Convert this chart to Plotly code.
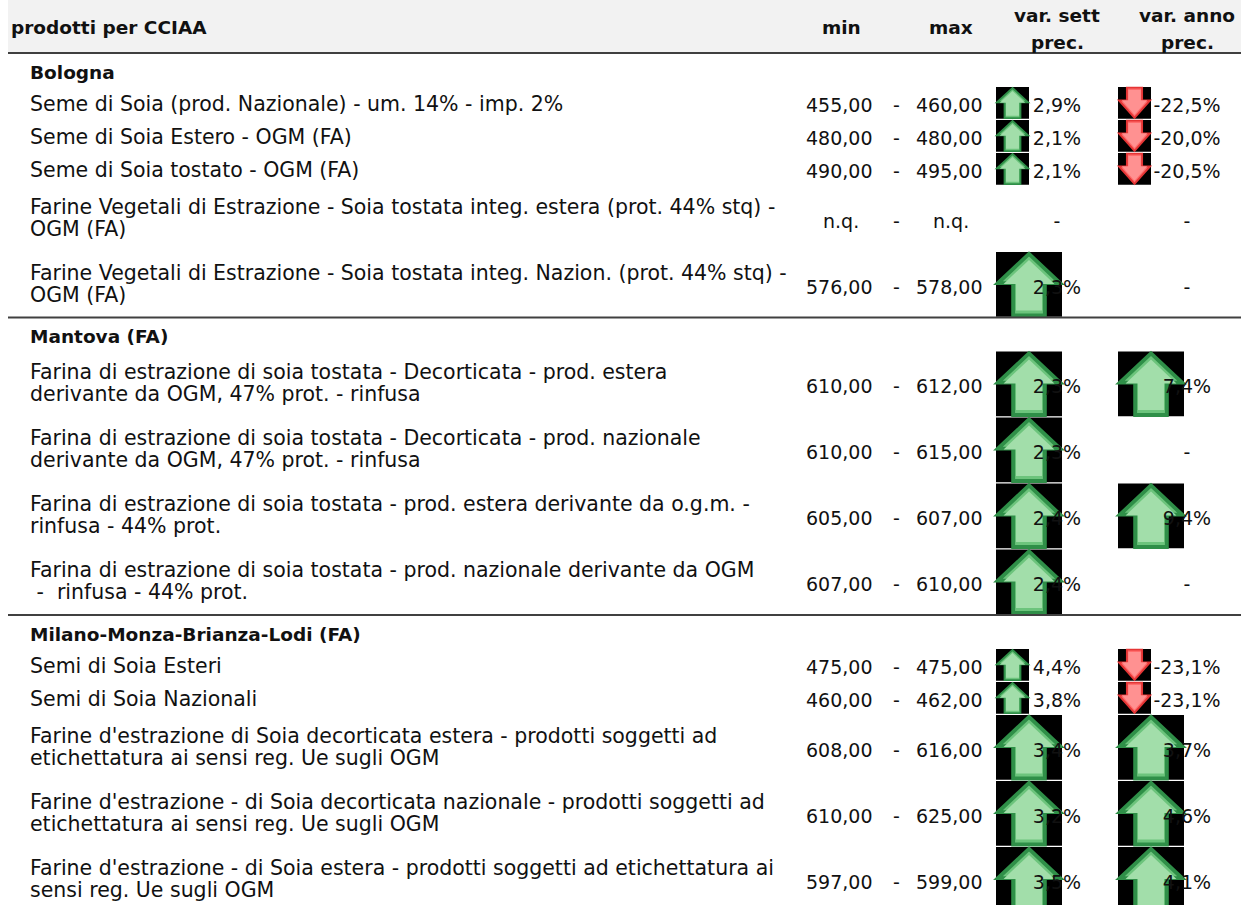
import plotly.graph_objects as go

# ---------------- data ----------------
groups = ["Bologna", "Mantova (FA)", "Milano-Monza-Brianza-Lodi (FA)"]
group_of = [0, 0, 0, 0, 0, 1, 1, 1, 1, 2, 2, 2, 2, 2]
products = [
    "Seme di Soia (prod. Nazionale) - um. 14% - imp. 2%",
    "Seme di Soia Estero - OGM (FA)",
    "Seme di Soia tostato - OGM (FA)",
    "Farine Vegetali di Estrazione - Soia tostata integ. estera (prot. 44% stq) -<br>OGM (FA)",
    "Farine Vegetali di Estrazione - Soia tostata integ. Nazion. (prot. 44% stq) -<br>OGM (FA)",
    "Farina di estrazione di soia tostata - Decorticata - prod. estera<br>derivante da OGM, 47% prot. - rinfusa",
    "Farina di estrazione di soia tostata - Decorticata - prod. nazionale<br>derivante da OGM, 47% prot. - rinfusa",
    "Farina di estrazione di soia tostata - prod. estera derivante da o.g.m. -<br>rinfusa - 44% prot.",
    "Farina di estrazione di soia tostata - prod. nazionale derivante da OGM<br> -  rinfusa - 44% prot.",
    "Semi di Soia Esteri",
    "Semi di Soia Nazionali",
    "Farine d'estrazione di Soia decorticata estera - prodotti soggetti ad<br>etichettatura ai sensi reg. Ue sugli OGM",
    "Farine d'estrazione - di Soia decorticata nazionale - prodotti soggetti ad<br>etichettatura ai sensi reg. Ue sugli OGM",
    "Farine d'estrazione - di Soia estera - prodotti soggetti ad etichettatura ai<br>sensi reg. Ue sugli OGM",
]
min_prices = [455, 480, 490, None, 576, 610, 610, 605, 607, 475, 460, 608, 610, 597]
max_prices = [460, 480, 495, None, 578, 612, 615, 607, 610, 475, 462, 616, 625, 599]
var_week = [2.9, 2.1, 2.1, None, 2.3, 2.3, 2.3, 2.4, 2.4, 4.4, 3.8, 3.4, 3.2, 3.5]
var_year = [-22.5, -20.0, -20.5, None, None, 7.4, None, 9.4, None, -23.1, -23.1, 3.7, 4.6, 4.1]
header_labels = ["prodotti per CCIAA", "min", "max", "var. sett<br>prec.", "var. anno<br>prec."]

# ---------------- layout constants ----------------
W, H = 1241, 905
FONT = "DejaVu Sans"
FS = 20.5
FS_NUM = 19
FS_HEAD = 18.5
TXT = "#111111"
HEADER_H = 53
LABEL_H = 33.5
LABEL_OFF = 19
LINE_ROW_H = 33
WRAP_STEP = 22
X_LEFT = 8
X_TEXT = 28
X_HEAD_TEXT = 9
X_MIN_R, X_MIN_C = 874, 841
X_DASH = 896
X_MAX_R, X_MAX_C = 984, 951
X_WEEK_ARROW, X_WEEK_C = 996, 1057
X_YEAR_ARROW, X_YEAR_C = 1118, 1187
VAL_DY = 2
PCT_DY = 4.5


def it_num(v, dec=2):
    return f"{v:.{dec}f}".replace(".", ",")


def it_pct(v):
    return f"{v:.1f}".replace(".", ",") + "%"


def arrow_shapes(x0, y0, size_w, size_h, up):
    shapes = [dict(type="rect", x0=x0, x1=x0 + size_w, y0=y0, y1=y0 + size_h,
                   fillcolor="#000000", line=dict(width=0), layer="below")]
    if up:
        rel = [(0.5, 0.03), (0.97, 0.48), (0.74, 0.48), (0.74, 0.98),
               (0.26, 0.98), (0.26, 0.48), (0.03, 0.48)]
        border, mid, fill = "#2f8f48", "#6cc47c", "#a2deaa"
    else:
        rel = [(0.27, 0.02), (0.73, 0.02), (0.73, 0.42), (0.97, 0.42),
               (0.5, 0.97), (0.03, 0.42), (0.27, 0.42)]
        border, mid, fill = "#e53535", "#ff6c6c", "#ff9191"
    lw = max(1.5, size_h * 0.06)

    def path(scale):
        cx, cy = 0.5, 0.55 if up else 0.42
        pts = [(cx + (px - cx) * scale, cy + (py - cy) * scale) for px, py in rel]
        return "M " + " L ".join(f"{x0 + px * size_w:.2f},{y0 + py * size_h:.2f}"
                                 for px, py in pts) + " Z"

    shapes.append(dict(type="path", path=path(1.0), fillcolor=mid,
                       line=dict(color=border, width=lw), layer="below"))
    shapes.append(dict(type="path", path=path(0.82), fillcolor=fill,
                       line=dict(width=0), layer="below"))
    return shapes


annotations = []
shapes = []


def add_text(x, y, text, anchor="left", bold=False, size=FS):
    annotations.append(dict(
        x=x, y=y, xref="x", yref="y", text=f"<b>{text}</b>" if bold else text,
        showarrow=False, xanchor=anchor, yanchor="middle",
        font=dict(family=FONT, size=size, color=TXT)))


# header
shapes.append(dict(type="rect", x0=X_LEFT, x1=W, y0=0, y1=HEADER_H,
                   fillcolor="#f2f2f2", line=dict(width=0), layer="below"))
shapes.append(dict(type="line", x0=X_LEFT, x1=W, y0=HEADER_H, y1=HEADER_H,
                   line=dict(color="#404040", width=2.2)))
add_text(X_HEAD_TEXT, 27, header_labels[0], bold=True, size=FS_HEAD)
add_text(X_MIN_C, 27, header_labels[1], anchor="center", bold=True, size=FS_HEAD)
add_text(X_MAX_C, 27, header_labels[2], anchor="center", bold=True, size=FS_HEAD)
for cx, lab in [(X_WEEK_C, header_labels[3]), (X_YEAR_C, header_labels[4])]:
    for k, part in enumerate(lab.split("<br>")):
        add_text(cx, 15 + k * 27, part, anchor="center", bold=True, size=FS_HEAD)

pct_x, pct_y, pct_t = [], [], []

y = HEADER_H
for g, gname in enumerate(groups):
    add_text(X_TEXT, y + LABEL_OFF, gname, bold=True, size=FS_HEAD)
    y += LABEL_H
    idx = [i for i, gg in enumerate(group_of) if gg == g]
    for i in idx:
        lines = products[i].split("<br>")
        h = LINE_ROW_H * len(lines)
        c = y + h / 2
        n = len(lines)
        for k, ln in enumerate(lines):
            add_text(X_TEXT, c + (-1 if n > 1 else 1) + (k - (n - 1) / 2) * WRAP_STEP, ln)
        if min_prices[i] is None:
            add_text(X_MIN_C, c + VAL_DY, "n.q.", anchor="center", size=FS_NUM)
            add_text(X_MAX_C, c + VAL_DY, "n.q.", anchor="center", size=FS_NUM)
        else:
            add_text(X_MIN_R, c + VAL_DY, it_num(min_prices[i]), anchor="right", size=FS_NUM)
            add_text(X_MAX_R, c + VAL_DY, it_num(max_prices[i]), anchor="right", size=FS_NUM)
        add_text(X_DASH, c + VAL_DY, "-", anchor="center", size=FS_NUM)
        for val, ax, cx in [(var_week[i], X_WEEK_ARROW, X_WEEK_C),
                            (var_year[i], X_YEAR_ARROW, X_YEAR_C)]:
            pct_x.append(cx)
            pct_y.append(c + PCT_DY)
            if val is None:
                pct_t.append("-")
            else:
                pct_t.append(it_pct(val))
                shapes.extend(arrow_shapes(ax, y + 0.5, h, h - 1.2, val >= 0))
        y += h
    if g < len(groups) - 1:
        shapes.append(dict(type="line", x0=X_LEFT, x1=W, y0=y, y1=y,
                           line=dict(color="#404040", width=2.2)))

fig = go.Figure()
fig.add_trace(go.Scatter(
    x=pct_x, y=pct_y, text=pct_t, mode="text", textposition="middle center",
    textfont=dict(family=FONT, size=FS_NUM, color=TXT), hoverinfo="skip",
    showlegend=False, cliponaxis=False))

fig.update_layout(
    width=W, height=H, margin=dict(l=0, r=0, t=0, b=0),
    paper_bgcolor="white", plot_bgcolor="white",
    xaxis=dict(range=[0, W], visible=False, fixedrange=True),
    yaxis=dict(range=[H, 0], visible=False, fixedrange=True),
    shapes=shapes, annotations=annotations, showlegend=False)

fig.write_html("out.html", config={"displayModeBar": False},
               post_script="document.body.style.margin='0';document.body.style.overflow='hidden';")
